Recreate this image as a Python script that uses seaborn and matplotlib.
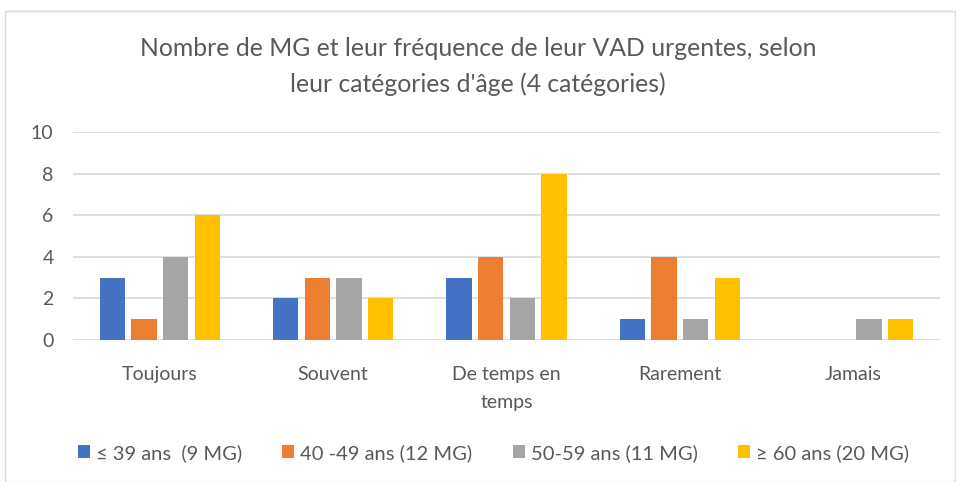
import matplotlib
matplotlib.use('Agg')
import matplotlib.pyplot as plt
import seaborn as sns
import pandas as pd
from matplotlib.patches import Rectangle

# ── Data ────────────────────────────────────────────────────────────────────
categories = ["Toujours", "Souvent", "De temps en\ntemps", "Rarement", "Jamais"]
series = ["≤ 39 ans  (9 MG)", "40 -49 ans (12 MG)", "50-59 ans (11 MG)", "≥ 60 ans (20 MG)"]
age_39 = [3, 2, 3, 1, 0]
age_40_49 = [1, 3, 4, 4, 0]
age_50_59 = [4, 3, 2, 1, 1]
age_60 = [6, 2, 8, 3, 1]
colors = ["#4472C4", "#ED7D31", "#A5A5A5", "#FFC000"]

rows = []
for name, vals in zip(series, [age_39, age_40_49, age_50_59, age_60]):
    for cat, v in zip(categories, vals):
        rows.append({"cat": cat, "serie": name, "n": v})
df = pd.DataFrame(rows)

# ── Plot ────────────────────────────────────────────────────────────────────
sns.set_style("white")
plt.rcParams['font.family'] = ['Lato', 'DejaVu Sans']
text_col = "#595959"

fig = plt.figure(figsize=(9.56, 4.82), dpi=100)
ax = fig.add_axes([73/956, 1 - 340/482, (940-73)/956, (340-132)/482])

sns.barplot(data=df, x="cat", y="n", hue="serie", palette=colors,
            order=categories, hue_order=series, width=0.73, gap=0.2,
            saturation=1, linewidth=0, ax=ax, legend=True)

ax.set_ylim(0, 10)
ax.set_xlim(-0.5, len(categories) - 0.5)
ax.set_yticks(range(0, 11, 2))
ax.yaxis.grid(True, color="#D9D9D9", linewidth=1.2)
ax.set_axisbelow(True)
for s in ax.spines.values():
    s.set_visible(False)
ax.set_xlabel("")
ax.set_ylabel("")
ax.tick_params(axis='both', length=0, labelsize=14, colors=text_col)
ax.tick_params(axis='x', pad=19)
ax.tick_params(axis='y', pad=14)
for lab in ax.get_xticklabels():
    lab.set_linespacing(1.75)

ax.legend(loc="center", ncol=4, frameon=False, fontsize=14.5,
          handlelength=0.6, handleheight=0.6, handletextpad=0.3,
          columnspacing=2.0, labelcolor=text_col)
leg = ax.get_legend()
leg.set_bbox_to_anchor((0.485, -(453-340)/208), transform=ax.transAxes)

fig.text(0.5, 1 - 48/482, "Nombre de MG et leur fréquence de leur VAD urgentes, selon",
         ha="center", va="center", fontsize=17.8, color=text_col)
fig.text(0.5, 1 - 84/482, "leur catégories d'âge (4 catégories)",
         ha="center", va="center", fontsize=17.8, color=text_col)

fig.patches.append(Rectangle((5/956, 0), 950/956, 1 - 11/482, transform=fig.transFigure,
                             fill=False, edgecolor="#D9D9D9", linewidth=1))

fig.savefig("out.png", dpi=100)
